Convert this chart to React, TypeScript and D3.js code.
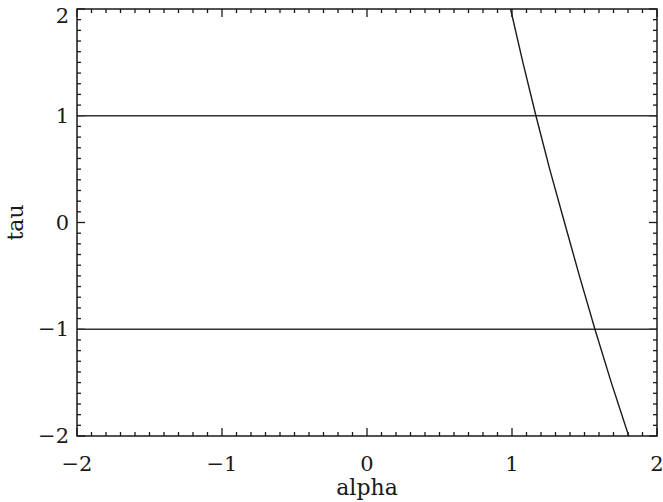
import React from "react";
import * as d3 from "d3";

const xTicks = [-2, -1, 0, 1, 2];
const yTicks = [-2, -1, 0, 1, 2];
const hLines = [1, -1];
const curveTau = [2, 1.5, 1, 0.5, 0, -0.5, -1, -1.5, -2];
const curveAlpha = [0.99, 1.075, 1.165, 1.26, 1.362, 1.465, 1.572, 1.685, 1.805];

const W = 663, H = 502;
const m = { left: 77, right: 6, top: 9, bottom: 66 };

export default function App() {
  const x = d3.scaleLinear().domain([-2, 2]).range([m.left, W - m.right]);
  const y = d3.scaleLinear().domain([-2, 2]).range([H - m.bottom, m.top]);
  const minorX = d3.range(-20, 21).map((d) => d / 10);
  const minorY = d3.range(-20, 21).map((d) => d / 10);
  const line = d3.line<number>().x((_, i) => x(curveAlpha[i])).y((d) => y(d));
  const font = "'DejaVu Serif', serif";
  const isMajor = (v: number) => Math.abs(v - Math.round(v)) < 1e-6;
  const col = "#1a1a1a";
  return (
    <svg width={W} height={H} style={{ position: "absolute", left: 0, top: 0, background: "#fff" }}>
      <g stroke={col} strokeWidth={1.3}>
        {minorX.map((v) => {
          const len = isMajor(v) ? 8 : 4;
          return (
            <g key={"x" + v}>
              <line x1={x(v)} x2={x(v)} y1={y(-2)} y2={y(-2) - len} />
              <line x1={x(v)} x2={x(v)} y1={y(2)} y2={y(2) + len} />
            </g>
          );
        })}
        {minorY.map((v) => {
          const len = isMajor(v) ? 8 : 4;
          return (
            <g key={"y" + v}>
              <line x1={x(-2)} x2={x(-2) + len} y1={y(v)} y2={y(v)} />
              <line x1={x(2)} x2={x(2) - len} y1={y(v)} y2={y(v)} />
            </g>
          );
        })}
      </g>
      {hLines.map((v) => (
        <line key={"h" + v} x1={x(-2)} x2={x(2)} y1={y(v)} y2={y(v)} stroke="#333" strokeWidth={1.4} />
      ))}
      <path d={line(curveTau) || ""} fill="none" stroke={col} strokeWidth={1.4} />
      <rect x={x(-2)} y={y(2)} width={x(2) - x(-2)} height={y(-2) - y(2)} fill="none" stroke={col} strokeWidth={1.5} />
      <g fontFamily={font} fontSize={21} fill={col}>
        {xTicks.map((v) => (
          <text key={"xt" + v} x={x(v)} y={y(-2) + 35} textAnchor="middle">
            {v < 0 ? "\u2212" + Math.abs(v) : String(v)}
          </text>
        ))}
        {yTicks.map((v) => (
          <text key={"yt" + v} x={x(-2) - 8} y={Math.max(y(v) + 7, y(2) + 14)} textAnchor="end">
            {v < 0 ? "\u2212" + Math.abs(v) : String(v)}
          </text>
        ))}
        <text x={(x(-2) + x(2)) / 2} y={H - 7} textAnchor="middle" fontSize={22}>alpha</text>
        <text transform={`translate(23, ${(y(-2) + y(2)) / 2}) rotate(-90)`} textAnchor="middle" fontSize={22}>tau</text>
      </g>
    </svg>
  );
}
